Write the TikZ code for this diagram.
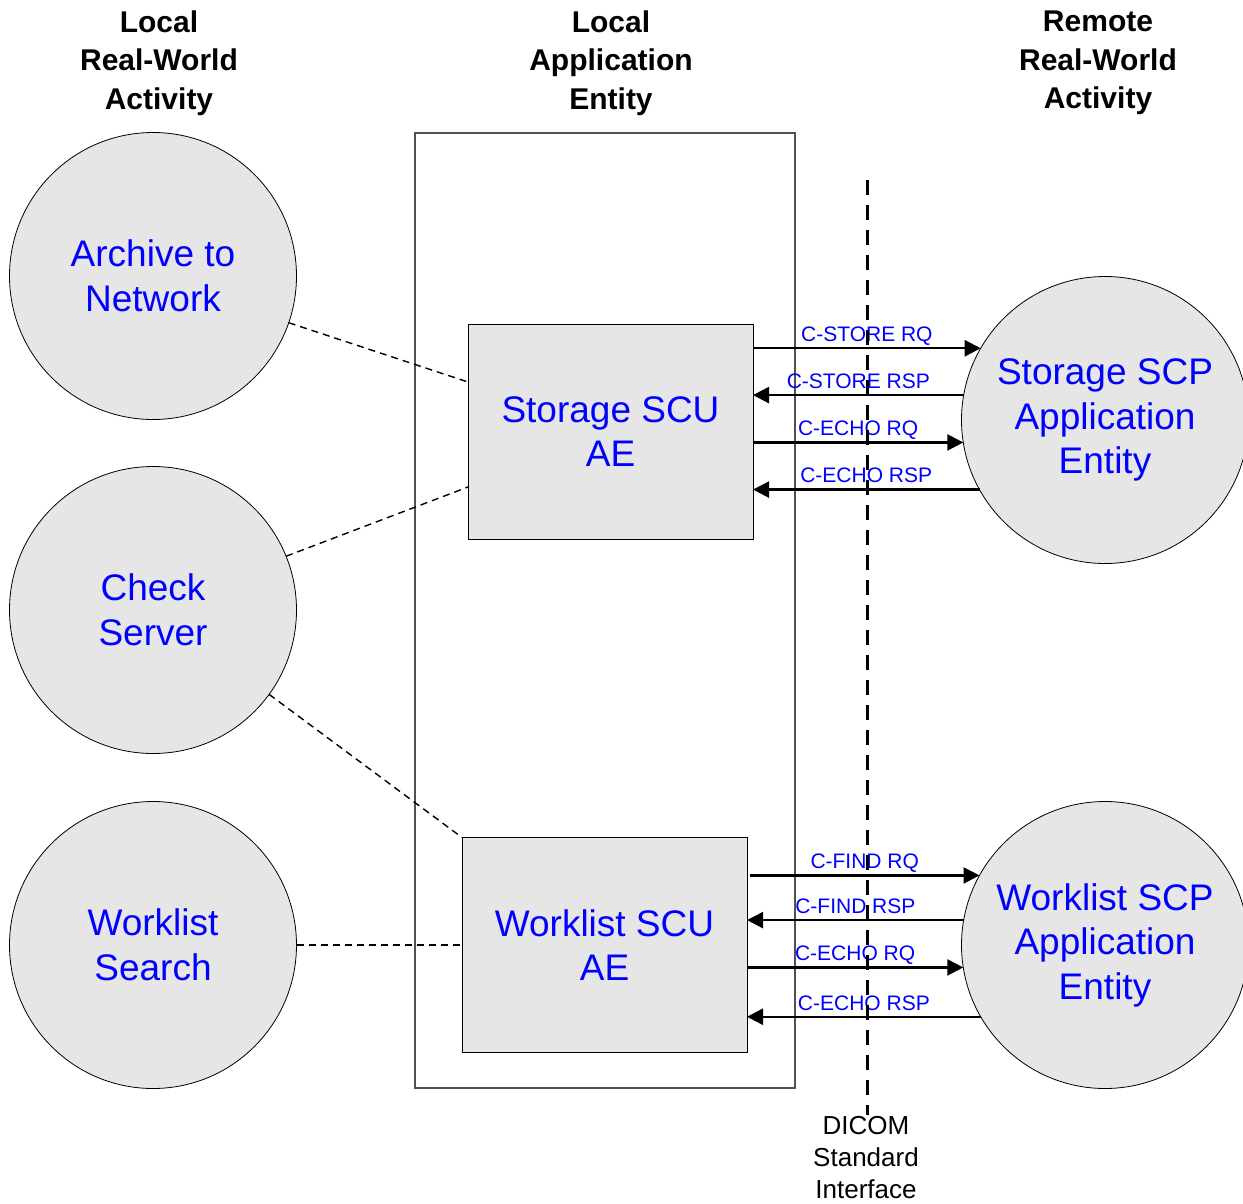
\documentclass[tikz,border=0pt]{standalone}
\usepackage{fontspec}
\setmainfont{Liberation Sans}
\usetikzlibrary{arrows.meta}
\definecolor{aefill}{RGB}{230,230,230}
\definecolor{framegray}{RGB}{80,80,80}
\begin{document}
\begin{tikzpicture}[x=1pt,y=-1pt,
  activity/.style={circle, draw, line width=0.8pt, fill=aefill, minimum size=287pt,
    inner sep=0pt, outer sep=0pt, text=blue, align=center,
    font=\fontsize{37}{44.5}\selectfont},
  aebox/.style={rectangle, draw, line width=0.8pt, fill=aefill, minimum width=285pt,
    minimum height=215pt, inner sep=0pt, outer sep=0pt, text=blue, align=center,
    font=\fontsize{37}{44.5}\selectfont},
  header/.style={align=center, font=\fontsize{30}{38.5}\selectfont\bfseries},
  msg/.style={-{Triangle[length=16pt,width=16pt]}, line width=2.4pt},
  msglabel/.style={midway, above, inner sep=1pt, text=blue, text depth=4.5pt,
    font=\fontsize{21}{24}\selectfont},
  link/.style={dash pattern=on 7pt off 5pt, line width=1.4pt},
  interface/.style={dash pattern=on 15pt off 10pt, line width=3pt}
]
\useasboundingbox (0,0) rectangle (1243,1203);
\clip (0,0) rectangle (1243,1203);

% column headings
\node[header] (h1) at (159,63) {Local\\Real-World\\Activity};
\node[header] (h2) at (611,63) {Local\\Application\\Entity};
\node[header] (h3) at (1098,63) {Remote\\Real-World\\Activity};

% local application entity frame
\node[rectangle, draw=framegray, line width=1.4pt, minimum width=380pt,
  minimum height=955pt, inner sep=0pt] (lae) at (605,610.5) {};

% local real-world activities
\node[activity] (archive) at (153,276) {Archive to\\Network};
\node[activity] (check) at (153,610) {Check\\Server};
\node[activity] (wsearch) at (153,945) {Worklist\\Search};

% local application entities
\node[aebox] (storscu) at (610.5,431.5) {Storage SCU\\AE};
\node[aebox] (wlscu) at (604.5,945) {Worklist SCU\\AE};

% remote application entities
\node[activity] (storscp) at (1105,420) {Storage SCP\\Application\\Entity};
\node[activity] (wlscp) at (1105,945) {Worklist SCP\\Application\\Entity};

% activity to entity relations
\draw[link] (archive.-19) -- ([yshift=49.5pt]storscu.west);
\draw[link] (check.22) -- ([yshift=-55.5pt]storscu.west);
\draw[link] (check.-36.5) -- (wlscu.north west);
\draw[link] (wsearch.east) -- (wlscu.west);

% storage messages
\draw[msg] (storscu.east |- storscp.150.5) -- (storscp.150.5)
  node[msglabel] {C-STORE RQ};
\draw[msg] (storscp.170.3) -- (storscu.east |- storscp.170.3)
  node[msglabel] {C-STORE RSP};
\draw[msg] (storscu.east |- storscp.189.6) -- (storscp.189.6)
  node[msglabel] {C-ECHO RQ};
\draw[msg] (storscp.209.7) -- (storscu.east |- storscp.209.7)
  node[msglabel] {C-ECHO RSP};

% worklist messages
\draw[msg] ([xshift=3pt]wlscu.east |- wlscp.151.2) -- (wlscp.151.2)
  node[msglabel] {C-FIND RQ};
\draw[msg] (wlscp.170.7) -- (wlscu.east |- wlscp.170.7)
  node[msglabel] {C-FIND RSP};
\draw[msg] (wlscu.east |- wlscp.189.7) -- (wlscp.189.7)
  node[msglabel] {C-ECHO RQ};
\draw[msg] (wlscp.210.2) -- (wlscu.east |- wlscp.210.2)
  node[msglabel] {C-ECHO RSP};

% DICOM standard interface boundary
\coordinate (itop) at (867,180);
\node[align=center, inner sep=2pt, font=\fontsize{26}{32}\selectfont]
  (dicom) at (866,1158) {DICOM\\Standard\\Interface};
\draw[interface] (itop) -- (itop |- dicom.north);
\end{tikzpicture}
\end{document}
